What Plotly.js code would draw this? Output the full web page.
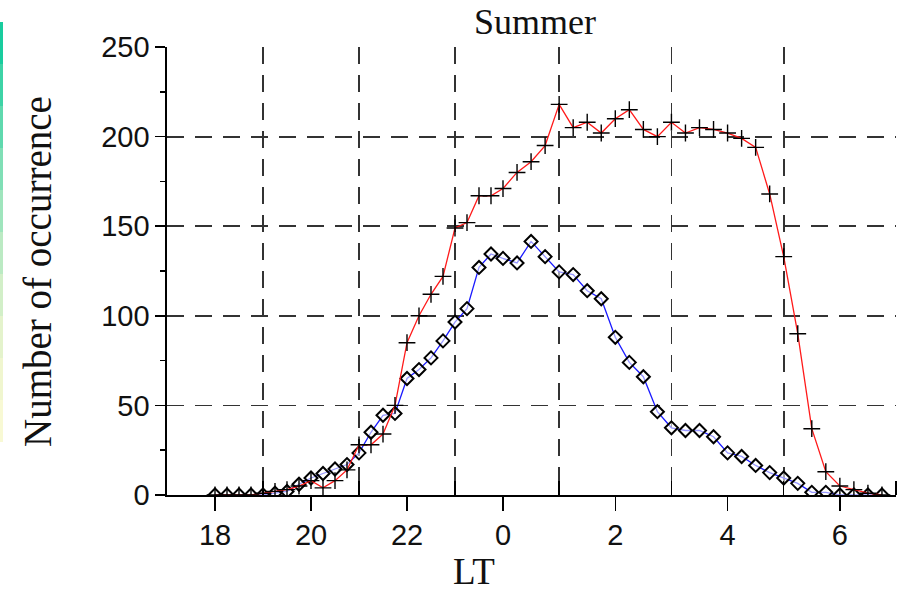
<!DOCTYPE html>
<html>
<head>
<meta charset="utf-8">
<script src="https://cdn.plot.ly/plotly-3.0.1.min.js"></script>
<style>html,body{margin:0;padding:0;background:#fff;}#chart{width:905px;height:594px;}</style>
</head>
<body>
<div id="chart"></div>
<script>
// Local time (hours) of each sample; evening hours >= 12, morning hours < 12
const hoursLT = [18, 18.25, 18.5, 18.75, 19, 19.25, 19.5, 19.75, 20, 20.25, 20.5, 20.75,
  21, 21.25, 21.5, 21.75, 22, 22.25, 22.5, 22.75, 23, 23.25, 23.5, 23.75,
  0, 0.25, 0.5, 0.75, 1, 1.25, 1.5, 1.75, 2, 2.25, 2.5, 2.75,
  3, 3.25, 3.5, 3.75, 4, 4.25, 4.5, 4.75, 5, 5.25, 5.5, 5.75, 6, 6.25, 6.5, 6.75];

// Red series (+ markers)
const redCounts = [0, 0, 0, 0, 1, 2, 3, 5, 8, 4, 8, 14,
  28, 28, 34, 50, 85, 100, 112, 122, 149, 152, 167, 167,
  171, 180, 186, 195, 218, 205, 208, 202, 210, 215, 204, 200,
  208, 202, 205, 204, 202, 199, 194, 168, 133, 90, 37, 13, 5, 3, 1, 0];

// Blue series (diamond markers)
const blueCounts = [0, 0, 0, 0, 0, 1, 2, 6, 9.5, 12, 14.5, 17,
  23.5, 35, 44.5, 45.5, 65, 70, 76.5, 86, 96.5, 104, 127, 134.5,
  132, 129.5, 141.5, 133, 124.5, 123, 114, 109.5, 88, 74, 66, 46.5,
  37.5, 36, 36, 32.5, 23.5, 21.5, 16.5, 12.5, 9.5, 6.5, 1.5, 1.5, 0, 0, 0, 0];

const eveTickVals = [18, 20, 22];
const eveTickText = ['18', '20', '22'];
const mornTickVals = [0, 2, 4, 6];
const mornTickText = ['0', '2', '4', '6'];
const eveGridVals = [19, 21, 23];
const mornGridVals = [1, 3, 5, 7];
const yTickVals = [0, 50, 100, 150, 200, 250];

const chartTitle = 'Summer';
const xTitle = 'LT';
const yTitle = 'Number of occurrence';

// split into evening (x axis 1) and morning (x axis 2); evening part continues to midnight (24)
function splitSeries(vals) {
  const ex = [], ey = [], mx = [], my = [];
  hoursLT.forEach((h, i) => {
    if (h >= 12) { ex.push(h); ey.push(vals[i]); }
    else { mx.push(h); my.push(vals[i]); }
  });
  const mid = hoursLT.indexOf(0);
  ex.push(24); ey.push(vals[mid]);
  return {ex, ey, mx, my};
}

const red = splitSeries(redCounts);
const blue = splitSeries(blueCounts);

const blueStyle = {
  mode: 'lines+markers',
  line: {color: '#1a1aff', width: 1.3},
  marker: {symbol: 'diamond', size: 10, color: 'rgba(255,255,255,0.55)', line: {color: '#000', width: 2}},
  showlegend: false, hoverinfo: 'skip'
};
const redStyle = {
  mode: 'lines+markers',
  line: {color: '#ff1a1a', width: 1.3},
  marker: {symbol: 'cross-thin', size: 12, color: '#000', line: {color: '#000', width: 1.4}},
  showlegend: false, hoverinfo: 'skip'
};

const traces = [
  Object.assign({x: blue.ex, y: blue.ey, xaxis: 'x', yaxis: 'y'}, blueStyle),
  Object.assign({x: blue.mx, y: blue.my, xaxis: 'x2', yaxis: 'y'}, blueStyle),
  Object.assign({x: red.ex, y: red.ey, xaxis: 'x', yaxis: 'y'}, redStyle),
  Object.assign({x: red.mx, y: red.my, xaxis: 'x2', yaxis: 'y'}, redStyle)
];

const L = 167, R = 896, T = 47, B = 495;
const W = R - L, H = B - T;
const split = 336 / W;

const gridColor = '#333333';
const gridDash = '17px,11px';
const tickFont = {family: 'Liberation Sans, Arial, sans-serif', size: 29, color: '#111'};
const serif = 'Liberation Serif, Times New Roman, serif';

function xAxisBase(domain, range, tv, tt, gv) {
  return {
    domain: domain, range: range, anchor: 'y',
    tickmode: 'array', tickvals: tv, ticktext: tt,
    ticks: 'outside', ticklen: 14, tickwidth: 1.5, tickcolor: '#000',
    showline: true, linecolor: '#000', linewidth: 1.6,
    showgrid: false, zeroline: false, fixedrange: true,
    tickfont: tickFont,
    minor: {tickmode: 'array', tickvals: gv, ticks: 'inside', ticklen: 14, tickwidth: 1.5, tickcolor: '#000',
            showgrid: true, gridcolor: gridColor, gridwidth: 1.8, griddash: gridDash}
  };
}

const px = v => (v - L) / W;
const py = v => (B - v) / H;

// decorative gradient strip at the left edge
const stripColors = ['#18cc9e', '#3dd3a6', '#5fd9ae', '#80dfb6', '#9fe5bd', '#bbeac3', '#d2efc8', '#e4f3cc', '#f0f6cf', '#f8f9d4'];
const stripShapes = stripColors.map((c, i) => {
  const y0 = 22 + i * 42, y1 = y0 + 42;
  return {type: 'rect', xref: 'paper', yref: 'paper', x0: px(0), x1: px(3), y0: py(y1), y1: py(y0),
          fillcolor: c, line: {width: 0}, layer: 'below'};
});

const layout = {
  width: 905, height: 594,
  margin: {l: L, r: 905 - R, t: T, b: 594 - B, pad: 0},
  paper_bgcolor: '#fff', plot_bgcolor: '#fff',
  showlegend: false,
  xaxis: xAxisBase([0, split], [17, 24], eveTickVals, eveTickText, eveGridVals),
  xaxis2: xAxisBase([split, 1], [0, 7], mornTickVals, mornTickText, mornGridVals),
  yaxis: {
    range: [0, 250], tickmode: 'array', tickvals: yTickVals,
    ticks: 'outside', ticklen: 10, tickwidth: 1.5, tickcolor: '#000',
    showline: true, linecolor: '#000', linewidth: 1.6,
    showgrid: true, gridcolor: gridColor, gridwidth: 1.8, griddash: gridDash,
    zeroline: false, fixedrange: true, tickfont: tickFont,
    minor: {dtick: 25, ticks: 'outside', ticklen: 5, tickwidth: 1.5, tickcolor: '#000', showgrid: false}
  },
  shapes: stripShapes,
  annotations: [
    {text: chartTitle, xref: 'paper', yref: 'paper', x: px(535), y: py(22), xanchor: 'center', yanchor: 'middle',
     showarrow: false, font: {family: serif, size: 36, color: '#111'}},
    {text: xTitle, xref: 'paper', yref: 'paper', x: px(474), y: py(571), xanchor: 'center', yanchor: 'middle',
     showarrow: false, font: {family: serif, size: 37, color: '#111'}},
    {text: yTitle, xref: 'paper', yref: 'paper', x: px(37), y: py(272), xanchor: 'center', yanchor: 'middle',
     textangle: -90, showarrow: false, font: {family: serif, size: 39, color: '#111'}}
  ]
};

Plotly.newPlot('chart', traces, layout, {staticPlot: true, displayModeBar: false});
</script>
</body>
</html>
